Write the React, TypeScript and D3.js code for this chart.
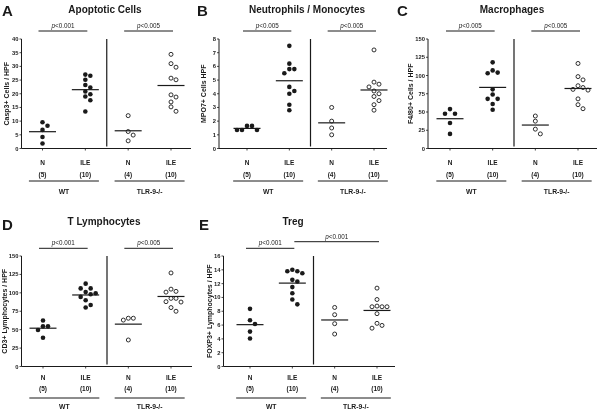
import React from 'react';
import * as d3 from 'd3';

// ---------- categories / labels ----------
const conditions = ['N', 'ILE', 'N', 'ILE'];
const counts = ['(5)', '(10)', '(4)', '(10)'];
const genotypes = ['WT', 'TLR-9-/-'];

// ---------- A: Apoptotic cells ----------
const apoWtN = [9.6, 8.3, 6.8, 4.2, 1.8];
const apoWtIle = [27.0, 26.6, 25.1, 23.2, 22.3, 20.8, 19.8, 19.0, 17.6, 13.5];
const apoKoN = [12.0, 6.2, 4.9, 2.8];
const apoKoIle = [34.4, 31.0, 29.7, 25.7, 25.1, 19.6, 18.8, 17.0, 15.2, 13.6];
const apoP = ['<0.001', '<0.005'];

// ---------- B: Neutrophils / Monocytes ----------
const mpoWtN = [1.65, 1.65, 1.35, 1.35, 1.35];
const mpoWtIle = [7.5, 6.2, 5.8, 5.8, 5.5, 4.5, 4.2, 4.0, 3.2, 2.8];
const mpoKoN = [3.0, 2.0, 1.5, 1.0];
const mpoKoIle = [7.2, 4.85, 4.7, 4.5, 4.2, 4.0, 3.8, 3.5, 3.2, 2.8];
const mpoP = ['<0.005', '<0.005'];

// ---------- C: Macrophages ----------
const macWtN = [54, 47.5, 47.5, 35, 20];
const macWtIle = [118, 107, 104, 103, 81, 74, 68, 68, 61, 53];
const macKoN = [44.5, 37.5, 26.5, 20];
const macKoIle = [116.5, 98.5, 94, 86, 83.5, 81, 80, 68, 60, 54.5];
const macP = ['<0.005', '<0.005'];

// ---------- D: T Lymphocytes ----------
const cd3WtN = [62.5, 54.5, 54.5, 49.5, 39];
const cd3WtIle = [112.5, 106, 106, 101, 99.5, 98, 94.5, 90, 83.5, 80];
const cd3KoN = [65.5, 65.5, 63, 36];
const cd3KoIle = [127, 105, 102, 101, 92.5, 92.5, 88, 87.5, 80, 75];
const cd3P = ['<0.001', '<0.005'];

// ---------- E: Treg ----------
const tregWtN = [8.35, 6.7, 6.15, 5.05, 4.05];
const tregWtIle = [14.0, 13.8, 13.8, 13.5, 12.55, 12.3, 11.5, 10.6, 9.7, 9.0];
const tregKoN = [8.55, 7.5, 6.2, 4.7];
const tregKoIle = [11.35, 9.7, 8.75, 8.65, 8.65, 8.65, 7.65, 6.25, 5.95, 5.55];
const tregP = ['<0.001', '<0.001'];

const FONT = '"Liberation Sans", Arial, Helvetica, sans-serif';
const INK = '#1a1a1a';

type Row = {
  y0: number; y1: number; title: number; letter: number; pBar: number;
  catY: number; countY: number; groupLineY: number; groupY: number;
};
const row1: Row = { y0: 148.5, y1: 39, title: 13, letter: 15.5, pBar: 31, catY: 165, countY: 177, groupLineY: 181, groupY: 194 };
const row2: Row = { y0: 366.5, y1: 256, title: 224.5, letter: 229.5, pBar: 248.3, catY: 379.5, countY: 390.5, groupLineY: 398, groupY: 408.5 };

type Panel = {
  letter: string; title: string; ylabel: string;
  series: number[][]; yMax: number; yStep: number;
  pvals: string[]; comps: [number, number][];
  row: Row; axisX: number; axisEnd: number; catRange: [number, number];
  letterX: number; ylabelX: number; titleX: number;
};

const panels: Panel[] = [
  { letter: 'A', title: 'Apoptotic Cells', ylabel: 'Casp3+ Cells / HPF', series: [apoWtN, apoWtIle, apoKoN, apoKoIle], yMax: 40, yStep: 5, pvals: apoP, comps: [[0, 1], [2, 3]], row: row1, axisX: 21.5, axisEnd: 191, catRange: [42.5, 171], letterX: 2, ylabelX: 6.5, titleX: 105 },
  { letter: 'B', title: 'Neutrophils / Monocytes', ylabel: 'MPO7+ Cells HPF', series: [mpoWtN, mpoWtIle, mpoKoN, mpoKoIle], yMax: 8, yStep: 1, pvals: mpoP, comps: [[0, 1], [2, 3]], row: row1, axisX: 219, axisEnd: 387, catRange: [247, 374], letterX: 197, ylabelX: 203, titleX: 307 },
  { letter: 'C', title: 'Macrophages', ylabel: 'F4/80+ Cells / HPF', series: [macWtN, macWtIle, macKoN, macKoIle], yMax: 150, yStep: 25, pvals: macP, comps: [[0, 1], [2, 3]], row: row1, axisX: 428, axisEnd: 597, catRange: [450, 578], letterX: 397, ylabelX: 410, titleX: 512 },
  { letter: 'D', title: 'T Lymphocytes', ylabel: 'CD3+ Lymphocytes / HPF', series: [cd3WtN, cd3WtIle, cd3KoN, cd3KoIle], yMax: 150, yStep: 25, pvals: cd3P, comps: [[0, 1], [2, 3]], row: row2, axisX: 21.5, axisEnd: 192, catRange: [43, 171], letterX: 2, ylabelX: 4.5, titleX: 104 },
  { letter: 'E', title: 'Treg', ylabel: 'FOXP3+ Lymphocytes / HPF', series: [tregWtN, tregWtIle, tregKoN, tregKoIle], yMax: 16, yStep: 2, pvals: tregP, comps: [[0, 1], [1, 3]], row: row2, axisX: 223.5, axisEnd: 395, catRange: [250, 377], letterX: 199, ylabelX: 209.5, titleX: 293 },
];

const R = 2.3;
const STEP = 5;

function swarm(ys: number[]): number[] {
  const placed: { x: number; y: number }[] = [];
  const xs = new Array(ys.length).fill(0);
  const order = ys.map((_, i) => i).sort((a, b) => ys[a] - ys[b]);
  for (const i of order) {
    for (let k = 0; k < 30; k++) {
      const off = k === 0 ? 0 : (k % 2 === 1 ? 1 : -1) * Math.ceil(k / 2) * STEP;
      if (placed.every(p => Math.hypot(p.x - off, p.y - ys[i]) >= 2 * R + 0.3)) {
        xs[i] = off;
        placed.push({ x: off, y: ys[i] });
        break;
      }
    }
  }
  return xs;
}

function PanelView({ p }: { p: Panel }) {
  const y = d3.scaleLinear().domain([0, p.yMax]).range([p.row.y0, p.row.y1]);
  const x = d3.scalePoint<number>().domain([0, 1, 2, 3]).range(p.catRange);
  const ticks = d3.range(0, p.yMax + p.yStep / 2, p.yStep);
  const cx = (i: number) => x(i) as number;
  const divX = (cx(1) + cx(2)) / 2;
  const yMid = (p.row.y0 + p.row.y1) / 2;
  let prevEnd = -Infinity;
  const bars = p.comps.map(([a, b], k) => {
    let start = cx(a) - 4;
    const end = cx(b) + 2;
    let level = 0;
    if (start < prevEnd) { start = prevEnd; level = 1; }
    prevEnd = end;
    return { start, end, level, text: p.pvals[k] };
  });
  return (
    <g fontFamily={FONT} fill={INK}>
      <text x={p.letterX} y={p.row.letter} fontSize={15} fontWeight="bold">{p.letter}</text>
      <text x={p.titleX} y={p.row.title} fontSize={10} fontWeight="bold" textAnchor="middle">{p.title}</text>
      <text transform={`translate(${p.ylabelX + 2.6},${yMid}) rotate(-90)`} fontSize={7} fontWeight="bold" textAnchor="middle">{p.ylabel}</text>
      {/* axes */}
      <line x1={p.axisX} x2={p.axisX} y1={y(p.yMax)} y2={y(0)} stroke={INK} strokeWidth={1} />
      <line x1={p.axisX} x2={p.axisEnd} y1={y(0)} y2={y(0)} stroke={INK} strokeWidth={1} />
      {ticks.map(t => (
        <g key={t}>
          <line x1={p.axisX - 2} x2={p.axisX} y1={y(t)} y2={y(t)} stroke={INK} strokeWidth={0.8} />
          <text x={p.axisX - 3} y={y(t) + 2} fontSize={5.8} fontWeight="bold" textAnchor="end">{t}</text>
        </g>
      ))}
      {conditions.map((c, i) => (
        <g key={i}>
          <line x1={cx(i)} x2={cx(i)} y1={y(0)} y2={y(0) + 2} stroke={INK} strokeWidth={0.8} />
          <text x={cx(i)} y={p.row.catY} fontSize={6.5} fontWeight="bold" textAnchor="middle">{c}</text>
          <text x={cx(i)} y={p.row.countY} fontSize={6.5} fontWeight="bold" textAnchor="middle">{counts[i]}</text>
        </g>
      ))}
      {genotypes.map((g, k) => {
        const m = (cx(2 * k) + cx(2 * k + 1)) / 2;
        return (
          <g key={g}>
            <line x1={m - 35} x2={m + 35} y1={p.row.groupLineY} y2={p.row.groupLineY} stroke={INK} strokeWidth={1} />
            <text x={m} y={p.row.groupY} fontSize={6.8} fontWeight="bold" textAnchor="middle">{g}</text>
          </g>
        );
      })}
      {/* divider */}
      <line x1={divX} x2={divX} y1={y(p.yMax)} y2={y(0) - 2} stroke={INK} strokeWidth={1.2} />
      {/* p-value bars */}
      {bars.map((b, k) => {
        const by = p.row.pBar - b.level * 6.6;
        return (
          <g key={k}>
            <line x1={b.start} x2={b.end} y1={by} y2={by} stroke={INK} strokeWidth={1} />
            <text x={(b.start + b.end) / 2} y={by - 3.2} fontSize={6.3} textAnchor="middle">
              <tspan fontStyle="italic">p</tspan>{b.text}
            </text>
          </g>
        );
      })}
      {/* points and means */}
      {p.series.map((vals, i) => {
        const ys = vals.map(v => y(v));
        const offs = swarm(ys);
        const mean = d3.mean(vals) as number;
        const filled = i < 2;
        return (
          <g key={i}>
            {vals.map((v, j) => (
              <circle key={j} cx={cx(i) + offs[j]} cy={ys[j]} r={filled ? R : R - 0.3}
                fill={filled ? INK : 'white'} stroke={INK} strokeWidth={filled ? 0 : 0.9} />
            ))}
            <line x1={cx(i) - 13.5} x2={cx(i) + 13.5} y1={y(mean)} y2={y(mean)} stroke={INK} strokeWidth={1.2} />
          </g>
        );
      })}
    </g>
  );
}

export default function App() {
  return (
    <svg width={600} height={411} viewBox="0 0 600 411"
      style={{ position: 'absolute', left: 0, top: 0, willChange: 'transform' }}>
      {panels.map(p => <PanelView key={p.letter} p={p} />)}
    </svg>
  );
}
